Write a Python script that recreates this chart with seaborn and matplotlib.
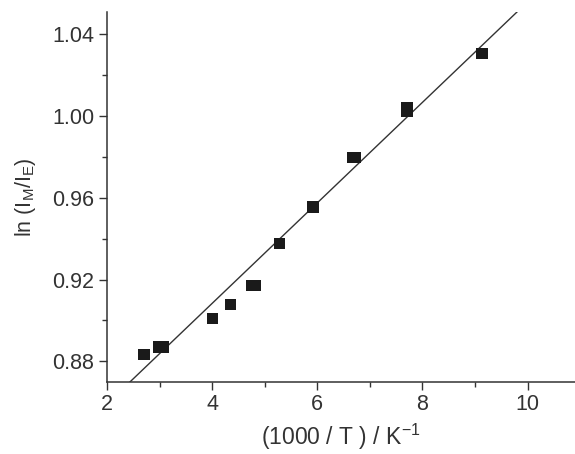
import numpy as np
import pandas as pd
import matplotlib
matplotlib.use("Agg")
import matplotlib.pyplot as plt
from matplotlib.ticker import MultipleLocator
import seaborn as sns

# pontos
inv_t = [2.70, 2.98, 3.07, 4.01, 4.35, 4.76, 4.82, 5.28, 5.92, 6.67, 6.72, 7.71, 7.71, 9.13]
ln_ratio = [0.8834, 0.8870, 0.8870, 0.9010, 0.9079, 0.9172, 0.9172, 0.9377, 0.9555,
            0.9797, 0.9797, 1.0026, 1.0040, 1.0306]

# reta ajustada (inclinação e intercepto lidos)
slope = 0.02459
intercept = 0.8100
line_x = [2.3, 10.0]

df = pd.DataFrame({'x': inv_t, 'y': ln_ratio})

sns.set_style('ticks')
plt.rcParams['font.family'] = ['Liberation Sans', 'DejaVu Sans']
cor = '#333333'

fig, ax = plt.subplots(figsize=(5.75, 4.54), dpi=100)
sns.scatterplot(data=df, x='x', y='y', marker='s', s=70, color='#1a1a1a',
                edgecolor='none', ax=ax, zorder=3)
lx = np.array(line_x)
sns.lineplot(x=lx, y=slope * lx + intercept, color='#333333', linewidth=1.0, ax=ax)

ax.set_xlim(2, 10.9)
ax.set_ylim(0.870, 1.051)
ax.xaxis.set_major_locator(MultipleLocator(2))
ax.xaxis.set_minor_locator(MultipleLocator(1))
ax.yaxis.set_major_locator(MultipleLocator(0.04))
ax.yaxis.set_minor_locator(MultipleLocator(0.02))
ax.yaxis.set_major_formatter(matplotlib.ticker.FormatStrFormatter('%.2f'))

ax.tick_params(which='major', length=6, width=1, colors=cor, labelsize=15.5, labelcolor=cor, pad=3)
ax.tick_params(which='minor', length=3.5, width=1, colors=cor)
for s in ['left', 'bottom']:
    ax.spines[s].set_color(cor)
    ax.spines[s].set_linewidth(1.1)
sns.despine(ax=ax)

ax.set_xlabel('(1000 / T ) / K$^{\\mathregular{-1}}$', fontsize=16.5, color=cor, labelpad=5)
ax.set_ylabel('ln (I$_{\\mathregular{M}}$/I$_{\\mathregular{E}}$)', fontsize=15.5, color=cor, labelpad=10)

fig.subplots_adjust(left=0.186, right=1.0, bottom=0.159, top=0.974)
fig.savefig('out.png', dpi=100)
